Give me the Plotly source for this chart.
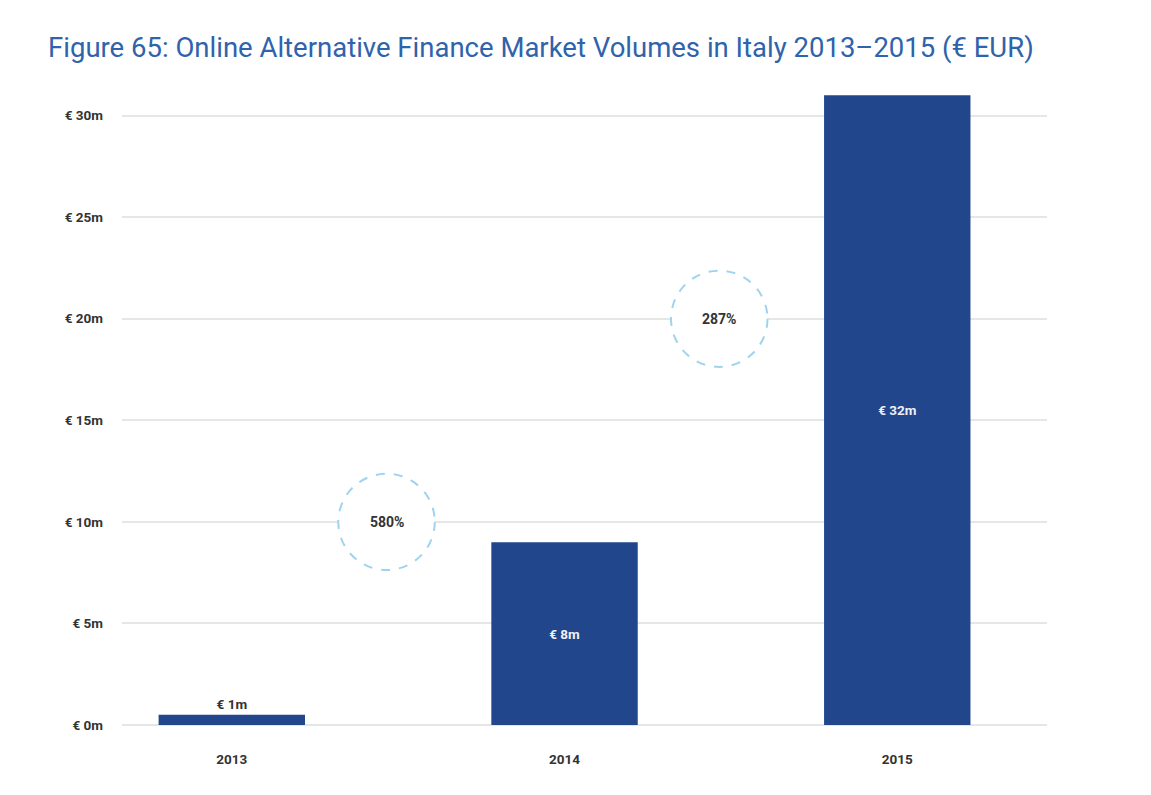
import plotly.graph_objects as go

years = ["2013", "2014", "2015"]
volumes = [0.5, 9.0, 31.0]          # bar heights, € millions
bar_labels = ["€ 1m", "€ 8m", "€ 32m"]
growth_labels = ["580%", "287%"]
growth_y = [10, 20]                 # gridline the growth bubble sits on
y_ticks = [0, 5, 10, 15, 20, 25, 30]
y_ticktext = ["€ " + str(v) + "m" for v in y_ticks]

BLUE = "#21468b"
TITLE_BLUE = "#2f63ab"
x = list(range(len(years)))

fig = go.Figure()
fig.add_trace(go.Bar(
    x=x, y=volumes, width=0.44,
    marker=dict(color=BLUE, line=dict(width=0)),
    text=bar_labels,
    textposition=["outside", "inside", "inside"],
    insidetextanchor="middle",
    textfont=dict(family="Roboto", size=13.5, weight="bold"),
    insidetextfont=dict(color="#eef0f6"),
    outsidetextfont=dict(color="#333333"),
    cliponaxis=False,
    hoverinfo="skip",
))

# dashed growth bubbles between consecutive bars
for i, (lab, gy) in enumerate(zip(growth_labels, growth_y)):
    cx = x[i] + 0.465
    rx, ry = 0.145, 2.37
    fig.add_shape(type="circle", xref="x", yref="y",
                  x0=cx - rx, x1=cx + rx, y0=gy - ry, y1=gy + ry,
                  fillcolor="white",
                  line=dict(color="#9fd3ee", width=2, dash="dash"))
    fig.add_annotation(x=cx, y=gy, text=lab, showarrow=False,
                       font=dict(family="Roboto", size=14, color="#333333", weight="bold"))

fig.update_layout(
    width=1151, height=795,
    margin=dict(l=114, r=112, t=67, b=78),
    paper_bgcolor="white", plot_bgcolor="white",
    showlegend=False,
    title=dict(text="Figure 65: Online Alternative Finance Market Volumes in Italy 2013–2015 (€ EUR)",
               x=0.0348, xanchor="left", y=0.951, yanchor="middle",
               font=dict(family="Roboto", size=27.5, color=TITLE_BLUE)),
    font=dict(family="Roboto", color="#333333"),
)
fig.update_xaxes(tickvals=x, ticktext=years, range=[-0.33, 2.45],
                 showgrid=False, zeroline=False, showline=False,
                 ticks="", ticklabelstandoff=24,
                 tickfont=dict(size=13.5, color="#333333", weight="bold"))
fig.update_yaxes(range=[0, 32], tickvals=y_ticks, ticktext=y_ticktext,
                 showgrid=True, gridcolor="#e6e6e6", gridwidth=1.5,
                 zeroline=True, zerolinecolor="#e6e6e6", zerolinewidth=1.5,
                 showline=False, ticks="", ticklabelstandoff=18,
                 tickfont=dict(size=13.5, color="#333333", weight="bold"))

fig.write_html("out.html")
